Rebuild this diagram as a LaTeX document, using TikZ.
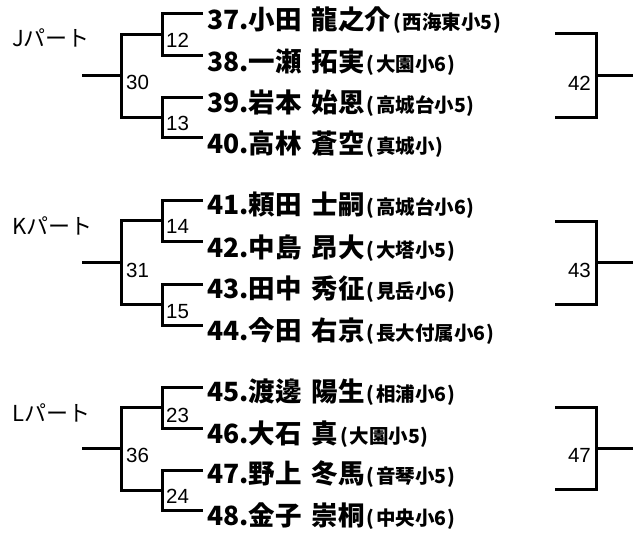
\documentclass[tikz,border=0pt]{standalone}
\usepackage{fontspec}
\newfontfamily\jp{Noto Sans CJK JP}
\newfontfamily\lat{Liberation Sans}
\begin{document}
\begin{tikzpicture}[x=1pt,y=-1pt,
  br/.style={line width=3pt, black},
  pname/.style={anchor=base west, inner sep=0pt, font=\jp\bfseries\fontsize{26.5}{26.5}\selectfont},
  plab/.style={anchor=base west, inner sep=0pt, font=\jp\fontsize{22}{22}\selectfont},
  mlab/.style={anchor=base west, inner sep=0pt, font=\lat\fontsize{20.5}{20.5}\selectfont},
  rlab/.style={anchor=base east, inner sep=0pt, font=\lat\fontsize{20.5}{20.5}\selectfont}]
\newcommand{\sch}[1]{{\fontsize{19.5}{19.5}\selectfont\hspace{2pt}(\hspace{1.5pt}#1\hspace{1pt})}}
\newcommand{\gap}{\hspace{10pt}}
\useasboundingbox (0,0) rectangle (633,533);

% part labels
\node[plab] (pJ) at (12,46) {Jパート};
\node[plab] (pK) at (12,234) {Kパート};
\node[plab] (pL) at (12,421) {Lパート};

% players
\node[pname] (p37) at (207,29)  {37.小田\gap 龍之介\sch{西海東小5}};
\node[pname] (p38) at (207,71)  {38.一瀬\gap 拓実\sch{大園小6}};
\node[pname] (p39) at (207,112) {39.岩本\gap 始恩\sch{高城台小5}};
\node[pname] (p40) at (207,153) {40.高林\gap 蒼空\sch{真城小}};
\node[pname] (p41) at (207,214) {41.頼田\gap 士嗣\sch{高城台小6}};
\node[pname] (p42) at (207,257) {42.中島\gap 昂大\sch{大塔小5}};
\node[pname] (p43) at (207,298) {43.田中\gap 秀征\sch{見岳小6}};
\node[pname] (p44) at (207,340) {44.今田\gap 右京\sch{長大付属小6}};
\node[pname] (p45) at (207,401) {45.渡邊\gap 陽生\sch{相浦小6}};
\node[pname] (p46) at (207,443) {46.大石\gap 真\sch{大園小5}};
\node[pname] (p47) at (207,483) {47.野上\gap 冬馬\sch{音琴小5}};
\node[pname] (p48) at (207,525) {48.金子\gap 崇桐\sch{中央小6}};

% line ends next to players
\coordinate (e37) at (203,13);
\coordinate (e38) at (203,55);
\coordinate (e39) at (203,97);
\coordinate (e40) at (203,137);
\coordinate (e41) at (203,200);
\coordinate (e42) at (203,241);
\coordinate (e43) at (203,284);
\coordinate (e44) at (203,325);
\coordinate (e45) at (203,387);
\coordinate (e46) at (203,428);
\coordinate (e47) at (203,470);
\coordinate (e48) at (203,510);

% match junctions
\coordinate (m12) at (162,34);
\coordinate (m13) at (162,117);
\coordinate (m30) at (121,75.5);
\coordinate (s30) at (82,75.5);
\coordinate (m14) at (162,220.5);
\coordinate (m15) at (162,304.5);
\coordinate (m31) at (121,262.5);
\coordinate (s31) at (82,262.5);
\coordinate (m23) at (162,407.5);
\coordinate (m24) at (162,490);
\coordinate (m36) at (121,448.75);
\coordinate (s36) at (82,448.75);

% brackets
\draw[br] (e37) -| (m12) |- (e38);
\draw[br] (e39) -| (m13) |- (e40);
\draw[br] (m12) -| (m30) |- (m13);
\draw[br] (m30) -- (s30);
\draw[br] (e41) -| (m14) |- (e42);
\draw[br] (e43) -| (m15) |- (e44);
\draw[br] (m14) -| (m31) |- (m15);
\draw[br] (m31) -- (s31);
\draw[br] (e45) -| (m23) |- (e46);
\draw[br] (e47) -| (m24) |- (e48);
\draw[br] (m23) -| (m36) |- (m24);
\draw[br] (m36) -- (s36);

% match labels
\node[mlab] (l12) at (166,47)  {12};
\node[mlab] (l13) at (166,130) {13};
\node[mlab] (l30) at (126,89)  {30};
\node[mlab] (l14) at (166,233) {14};
\node[mlab] (l15) at (166,318) {15};
\node[mlab] (l31) at (126,277) {31};
\node[mlab] (l23) at (166,422) {23};
\node[mlab] (l24) at (166,503) {24};
\node[mlab] (l36) at (126,462) {36};

% right brackets
\coordinate (r42t) at (555,33);
\coordinate (r42b) at (555,117);
\coordinate (m42) at (596,75);
\coordinate (s42) at (633,75);
\draw[br] (r42t) -| (m42) |- (r42b);
\draw[br] (m42) -- (s42);
\node[rlab] (l42) at (591,90) {42};

\coordinate (r43t) at (555,221);
\coordinate (r43b) at (555,304);
\coordinate (m43) at (596,262.5);
\coordinate (s43) at (633,262.5);
\draw[br] (r43t) -| (m43) |- (r43b);
\draw[br] (m43) -- (s43);
\node[rlab] (l43) at (591,277) {43};

\coordinate (r47t) at (555,407);
\coordinate (r47b) at (555,489);
\coordinate (m47) at (596,448);
\coordinate (s47) at (633,448);
\draw[br] (r47t) -| (m47) |- (r47b);
\draw[br] (m47) -- (s47);
\node[rlab] (l47) at (591,462) {47};
\end{tikzpicture}
\end{document}
